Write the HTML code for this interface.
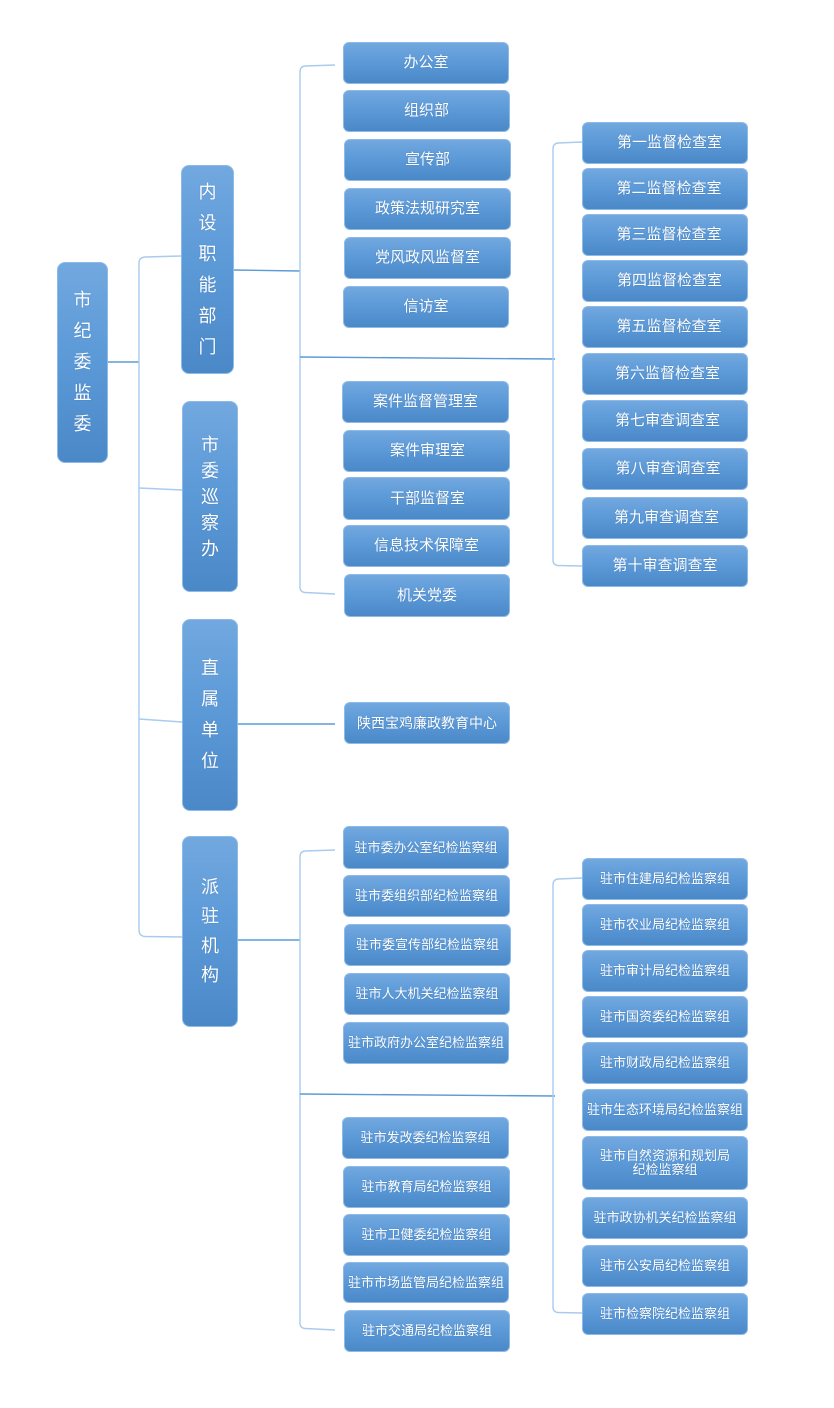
<!DOCTYPE html>
<html>
<head>
<meta charset="utf-8">
<style>
  html,body{margin:0;padding:0;background:#fff;}
  body{width:834px;height:1408px;position:relative;overflow:hidden;
    font-family:"Liberation Sans","Noto Sans CJK SC","WenQuanYi Zen Hei",sans-serif;}
  .b{position:absolute;box-sizing:border-box;border:1px solid #8dbae6;border-radius:6px;
    background:linear-gradient(to bottom,#72a8df 0%,#5c9ad8 45%,#4a88c8 100%);
    color:#fff;display:flex;align-items:center;justify-content:center;text-align:center;
    font-size:15px;line-height:16px;text-shadow:0 0 1px rgba(30,60,110,0.35);white-space:nowrap;}
  .s{font-size:13px;line-height:14px;}
  .m{font-size:14px;}
  .v{flex-direction:column;font-size:18px;border-radius:8px;}
  .v span{display:block;height:31px;line-height:31px;}
  svg{position:absolute;left:0;top:0;}
</style>
</head>
<body>
<svg width="834" height="1408" viewBox="0 0 834 1408">
  <g fill="none" stroke-width="1.4">
    <path d="M108,362 H139" stroke="#5b9bd5"/>
    <path d="M181,256 L145,257 Q139,257.5 139,263 L139,930 Q139,936 145,936.5 L182,937" stroke="#a9cbee"/>
    <path d="M139,488 L182,490" stroke="#a9cbee"/>
    <path d="M139,719 L182,722" stroke="#a9cbee"/>
    <path d="M234,270 L300,271" stroke="#5b9bd5"/>
    <path d="M335,65 L305,66 Q300,66.5 300,72 L300,587 Q300,592 305,592.5 L335,594" stroke="#a9cbee"/>
    <path d="M300,357 L555,359" stroke="#5b9bd5"/>
    <path d="M582,142 L558,143 Q553,143.5 553,149 L553,560 Q553,565 558,565.5 L582,566" stroke="#a9cbee"/>
    <path d="M238,724 H335" stroke="#5b9bd5"/>
    <path d="M238,940 H300" stroke="#5b9bd5"/>
    <path d="M335,850 L305,851 Q300,851.5 300,857 L300,1323 Q300,1328 305,1328.5 L335,1330" stroke="#a9cbee"/>
    <path d="M300,1094 L555,1096" stroke="#5b9bd5"/>
    <path d="M582,878 L558,879 Q553,879.5 553,885 L553,1307 Q553,1312 558,1312.5 L582,1313" stroke="#a9cbee"/>
  </g>
</svg>

<div class="b v" style="left:57px;top:262px;width:51px;height:201px;"><span>市</span><span>纪</span><span>委</span><span>监</span><span>委</span></div>

<div class="b v" style="left:181px;top:165px;width:53px;height:209px;"><span>内</span><span>设</span><span>职</span><span>能</span><span>部</span><span>门</span></div>
<div class="b v" style="left:182px;top:401px;width:56px;height:191px;"><span style="height:26px;line-height:26px">市</span><span style="height:26px;line-height:26px">委</span><span style="height:26px;line-height:26px">巡</span><span style="height:26px;line-height:26px">察</span><span style="height:26px;line-height:26px">办</span></div>
<div class="b v" style="left:182px;top:619px;width:56px;height:192px;"><span>直</span><span>属</span><span>单</span><span>位</span></div>
<div class="b v" style="left:182px;top:836px;width:56px;height:191px;"><span style="height:29.5px;line-height:29.5px">派</span><span style="height:29.5px;line-height:29.5px">驻</span><span style="height:29.5px;line-height:29.5px">机</span><span style="height:29.5px;line-height:29.5px">构</span></div>

<div class="b" style="left:343px;top:42px;width:166px;height:42px;">办公室</div>
<div class="b" style="left:343px;top:90px;width:167px;height:42px;">组织部</div>
<div class="b" style="left:344px;top:139px;width:167px;height:42px;">宣传部</div>
<div class="b" style="left:344px;top:188px;width:167px;height:42px;">政策法规研究室</div>
<div class="b" style="left:344px;top:237px;width:167px;height:42px;">党风政风监督室</div>
<div class="b" style="left:343px;top:286px;width:166px;height:42px;">信访室</div>

<div class="b" style="left:342px;top:381px;width:167px;height:42px;">案件监督管理室</div>
<div class="b" style="left:343px;top:430px;width:167px;height:42px;padding-left:2px;">案件审理室</div>
<div class="b" style="left:343px;top:477px;width:167px;height:43px;padding-left:2px;">干部监督室</div>
<div class="b" style="left:343px;top:525px;width:167px;height:42px;">信息技术保障室</div>
<div class="b" style="left:344px;top:574px;width:166px;height:43px;">机关党委</div>

<div class="b" style="left:582px;top:122px;width:166px;height:42px;padding-left:9px;">第一监督检查室</div>
<div class="b" style="left:582px;top:168px;width:166px;height:42px;padding-left:8px;">第二监督检查室</div>
<div class="b" style="left:582px;top:214px;width:166px;height:42px;padding-left:8px;">第三监督检查室</div>
<div class="b" style="left:582px;top:260px;width:166px;height:42px;padding-left:9px;">第四监督检查室</div>
<div class="b" style="left:582px;top:306px;width:166px;height:42px;padding-left:8px;">第五监督检查室</div>
<div class="b" style="left:582px;top:353px;width:166px;height:42px;padding-left:5px;">第六监督检查室</div>
<div class="b" style="left:582px;top:400px;width:166px;height:42px;padding-left:5px;">第七审查调查室</div>
<div class="b" style="left:582px;top:448px;width:166px;height:42px;padding-left:6px;">第八审查调查室</div>
<div class="b" style="left:582px;top:497px;width:166px;height:42px;padding-left:3px;">第九审查调查室</div>
<div class="b" style="left:582px;top:545px;width:166px;height:42px;">第十审查调查室</div>

<div class="b m" style="left:344px;top:702px;width:166px;height:42px;">陕西宝鸡廉政教育中心</div>

<div class="b s" style="left:343px;top:826px;width:166px;height:43px;">驻市委办公室纪检监察组</div>
<div class="b s" style="left:343px;top:875px;width:167px;height:42px;">驻市委组织部纪检监察组</div>
<div class="b s" style="left:344px;top:924px;width:167px;height:42px;">驻市委宣传部纪检监察组</div>
<div class="b s" style="left:344px;top:973px;width:166px;height:42px;">驻市人大机关纪检监察组</div>
<div class="b s" style="left:343px;top:1022px;width:166px;height:42px;">驻市政府办公室纪检监察组</div>

<div class="b s" style="left:342px;top:1117px;width:167px;height:42px;">驻市发改委纪检监察组</div>
<div class="b s" style="left:343px;top:1166px;width:167px;height:42px;">驻市教育局纪检监察组</div>
<div class="b s" style="left:343px;top:1214px;width:167px;height:42px;">驻市卫健委纪检监察组</div>
<div class="b s" style="left:343px;top:1262px;width:166px;height:41px;">驻市市场监管局纪检监察组</div>
<div class="b s" style="left:344px;top:1310px;width:166px;height:42px;">驻市交通局纪检监察组</div>

<div class="b s" style="left:582px;top:858px;width:166px;height:42px;">驻市住建局纪检监察组</div>
<div class="b s" style="left:582px;top:904px;width:166px;height:42px;">驻市农业局纪检监察组</div>
<div class="b s" style="left:582px;top:950px;width:166px;height:42px;">驻市审计局纪检监察组</div>
<div class="b s" style="left:582px;top:996px;width:166px;height:42px;">驻市国资委纪检监察组</div>
<div class="b s" style="left:582px;top:1042px;width:166px;height:42px;">驻市财政局纪检监察组</div>
<div class="b s" style="left:582px;top:1089px;width:166px;height:42px;">驻市生态环境局纪检监察组</div>
<div class="b s" style="left:582px;top:1136px;width:166px;height:54px;flex-direction:column;">驻市自然资源和规划局<br>纪检监察组</div>
<div class="b s" style="left:582px;top:1197px;width:166px;height:42px;">驻市政协机关纪检监察组</div>
<div class="b s" style="left:582px;top:1245px;width:166px;height:42px;">驻市公安局纪检监察组</div>
<div class="b s" style="left:582px;top:1293px;width:166px;height:42px;">驻市检察院纪检监察组</div>
</body>
</html>
